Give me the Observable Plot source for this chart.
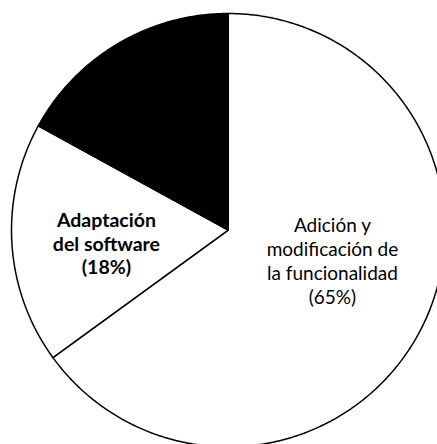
<!DOCTYPE html>
<html><head><meta charset="utf-8">
<script src="https://cdn.jsdelivr.net/npm/d3@7"></script>
<script src="https://cdn.jsdelivr.net/npm/@observablehq/plot@0.6"></script>
<style>body{margin:0;background:#fff} svg{overflow:hidden;display:block}</style>
</head><body><div id="chart"></div>
<script>
// Data (clockwise from 12 o'clock)
const categories = ["Adición y modificación de la funcionalidad", "Adaptación del software", "Reparación de defectos del software"];
const shares = [65, 18, 17];
const sliceFills = ["white", "white", "black"];
const labelLines = [["Adición y", "modificación de", "la funcionalidad"], ["Adaptación", "del software"], null];
const labelBold = [false, true, false];

// Label anchors in unit-radius coordinates (layout, not data)
const labelAnchor = [[0.481, -0.138], [-0.562, -0.06], null];

const arcs = d3.pie().sort(null).value(d => d)(shares);
const pts = [];
arcs.forEach((a, i) => {
  pts.push({k: i, x: 0, y: 0});
  const n = Math.max(2, Math.ceil((a.endAngle - a.startAngle) / (Math.PI / 360)));
  for (let j = 0; j <= n; j++) {
    const t = a.startAngle + (a.endAngle - a.startAngle) * j / n;
    pts.push({k: i, x: Math.sin(t), y: Math.cos(t)});
  }
  pts.push({k: i, x: 0, y: 0});
});

const labels = categories.map((c, i) => labelLines[i] ? {
  text: labelLines[i].join("\n") + "\n(" + shares[i] + "%)",
  x: labelAnchor[i][0], y: labelAnchor[i][1], bold: labelBold[i]
} : null).filter(d => d);

const marks = arcs.map((a, i) => Plot.line(pts.filter(d => d.k === i), {
  x: "x", y: "y", fill: sliceFills[i], stroke: "black", strokeWidth: 1.5, strokeLinejoin: "round"
}));
marks.push(Plot.text(labels.filter(d => !d.bold), {x: "x", y: "y", text: "text", fontSize: 19, lineHeight: 1.26, fill: "black"}));
marks.push(Plot.text(labels.filter(d => d.bold), {x: "x", y: "y", text: "text", fontSize: 19.5, fontWeight: "bold", lineHeight: 1.2, fill: "black"}));

const chart = Plot.plot({
  width: 437, height: 444, margin: 0,
  style: {fontFamily: "Lato, sans-serif", background: "white"},
  x: {domain: [-1.0508, 0.9658], axis: null},
  y: {domain: [-0.9889, 1.06], axis: null},
  marks
});
document.getElementById("chart").append(chart);
</script>
</body></html>
